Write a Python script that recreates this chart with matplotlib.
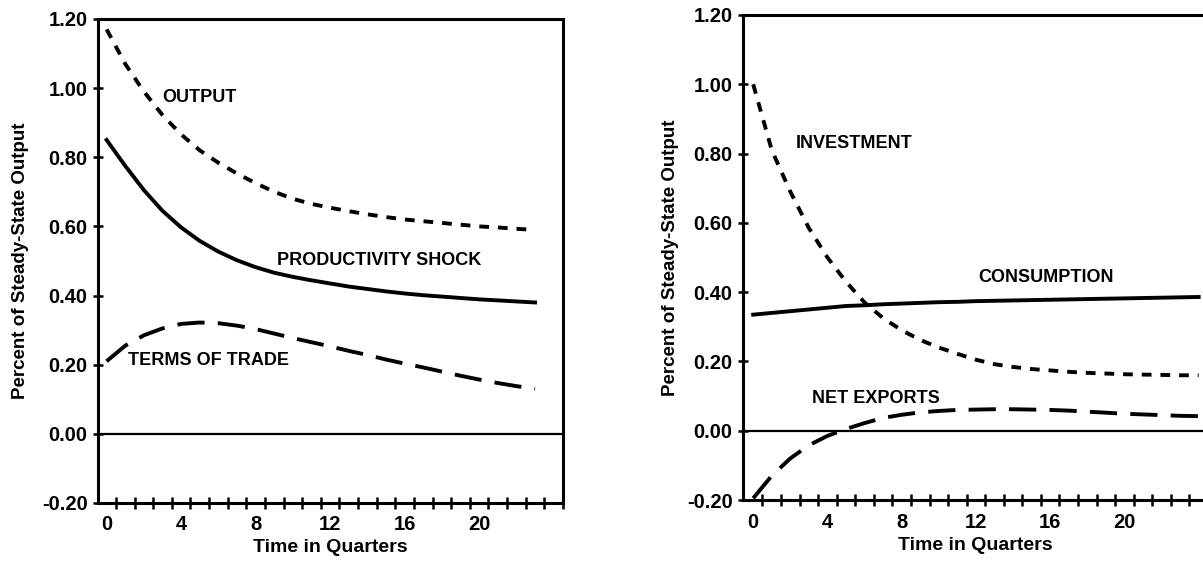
import numpy as np
import matplotlib.pyplot as plt

# quarters
q_left = list(range(0, 24))
q_right = list(range(0, 25))

# left panel - productivity shock
output = [1.17, 1.07, 0.99, 0.922, 0.866, 0.82, 0.784, 0.753, 0.725, 0.70, 0.68, 0.665,
          0.654, 0.644, 0.635, 0.627, 0.62, 0.615, 0.61, 0.605, 0.60, 0.597, 0.593, 0.59]
productivity = [0.85, 0.775, 0.705, 0.645, 0.597, 0.558, 0.527, 0.502, 0.482, 0.466, 0.454, 0.444,
                0.435, 0.426, 0.419, 0.412, 0.406, 0.401, 0.397, 0.393, 0.389, 0.386, 0.383, 0.38]
terms_of_trade = [0.21, 0.255, 0.285, 0.305, 0.318, 0.322, 0.32, 0.313, 0.303, 0.29, 0.277, 0.265,
                  0.253, 0.24, 0.228, 0.215, 0.203, 0.192, 0.18, 0.168, 0.157, 0.147, 0.138, 0.13]

# right panel
investment = [1.00, 0.81, 0.69, 0.585, 0.50, 0.43, 0.37, 0.325, 0.29, 0.262, 0.24, 0.222, 0.205,
              0.192, 0.184, 0.178, 0.174, 0.17, 0.167, 0.165, 0.163, 0.162, 0.161, 0.16, 0.16]
consumption = [0.335, 0.34, 0.345, 0.35, 0.355, 0.36, 0.362, 0.365, 0.367, 0.369, 0.371, 0.372, 0.374,
               0.375, 0.376, 0.377, 0.378, 0.379, 0.38, 0.381, 0.382, 0.383, 0.384, 0.385, 0.386]
net_exports = [-0.195, -0.13, -0.08, -0.042, -0.015, 0.005, 0.022, 0.037, 0.046, 0.053, 0.057, 0.06, 0.061,
               0.062, 0.062, 0.061, 0.06, 0.058, 0.055, 0.052, 0.049, 0.047, 0.045, 0.043, 0.042]

ytick_vals = [-0.20, 0.00, 0.20, 0.40, 0.60, 0.80, 1.00, 1.20]
xtick_vals = [0, 4, 8, 12, 16, 20]

plt.rcParams['font.family'] = ['Liberation Sans', 'DejaVu Sans']
plt.rcParams['font.weight'] = 'bold'

fig = plt.figure(figsize=(12.03, 5.63), dpi=100)
ax1 = fig.add_axes([0.0815, 0.1066, 0.3865, 0.8597])
ax2 = fig.add_axes([0.6176, 0.1119, 0.3865, 0.8615])

short_dash = (0, (2.5, 2.3))
long_dash = (0, (7, 3.4))
lw = 2.8

ax1.plot(q_left, output, color='black', lw=lw, linestyle=short_dash)
ax1.plot(q_left, productivity, color='black', lw=lw, linestyle='-')
ax1.plot(q_left, terms_of_trade, color='black', lw=lw, linestyle=long_dash)
ax1.text(2.96, 0.972, 'OUTPUT', fontsize=13, fontweight='bold', va='center')
ax1.text(9.15, 0.502, 'PRODUCTIVITY SHOCK', fontsize=13, fontweight='bold', va='center')
ax1.text(1.15, 0.213, 'TERMS OF TRADE', fontsize=13, fontweight='bold', va='center')

ax2.plot(q_right, investment, color='black', lw=lw, linestyle=short_dash)
ax2.plot(q_right, consumption, color='black', lw=lw, linestyle='-')
ax2.plot(q_right, net_exports, color='black', lw=lw, linestyle=long_dash)
ax2.text(2.28, 0.828, 'INVESTMENT', fontsize=13, fontweight='bold', va='center')
ax2.text(12.15, 0.442, 'CONSUMPTION', fontsize=13, fontweight='bold', va='center')
ax2.text(3.16, 0.094, 'NET EXPORTS', fontsize=13, fontweight='bold', va='center')

for ax, xl, ylx in [(ax1, (-0.46, 23.5), -0.166), (ax2, (-0.55, 23.41), -0.155)]:
    ax.axhline(0, color='black', lw=1.6)
    ax.set_xlim(xl)
    ax.set_ylim(-0.2, 1.2)
    ax.set_yticks(ytick_vals)
    ax.set_yticklabels(['%.2f' % v for v in ytick_vals])
    ax.set_xticks(xtick_vals)
    ax.set_xticks([k + 0.5 for k in range(0, 25)], minor=True)
    ax.tick_params(axis='x', which='major', length=0, pad=9, labelsize=14.5)
    ax.tick_params(axis='x', which='minor', direction='inout', length=9, width=1.8)
    ax.tick_params(axis='y', which='major', direction='inout', length=7, width=1.8, pad=4, labelsize=14.5)
    for s in ax.spines.values():
        s.set_linewidth(2.2)
    ax.set_xlabel('Time in Quarters', fontsize=14, fontweight='bold')
    ax.set_ylabel('Percent of Steady-State Output', fontsize=13.5, fontweight='bold')
    ax.xaxis.set_label_coords(0.5, -0.093)
    ax.xaxis.label.set_va('center')
    ax.yaxis.set_label_coords(ylx, 0.5)
    ax.yaxis.label.set_va('center')

plt.savefig('out.png', dpi=100)
